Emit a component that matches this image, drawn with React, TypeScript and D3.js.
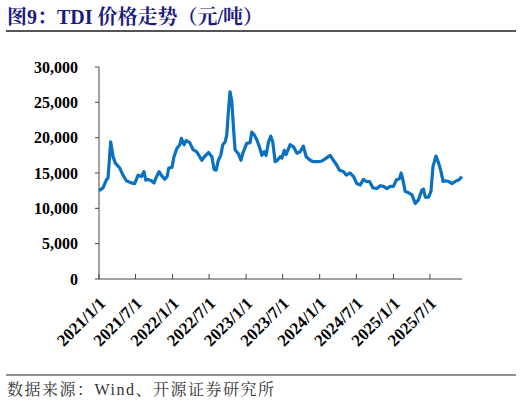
import { useEffect } from "react";
import * as d3 from "d3";

// TDI price (yuan/ton)
const dates = [
  "2021-01-01", "2021-01-21", "2021-02-06", "2021-02-15", "2021-02-28", "2021-03-12",
  "2021-03-23", "2021-04-14", "2021-04-30", "2021-05-17", "2021-06-10", "2021-06-27",
  "2021-07-14", "2021-07-30", "2021-08-12", "2021-08-21", "2021-09-01", "2021-09-18",
  "2021-10-01", "2021-10-12", "2021-10-26", "2021-11-06", "2021-11-23", "2021-12-05",
  "2021-12-13", "2021-12-29", "2022-01-08", "2022-01-23", "2022-02-06", "2022-02-14",
  "2022-02-27", "2022-03-10", "2022-03-27", "2022-04-13", "2022-05-01", "2022-05-26",
  "2022-06-11", "2022-06-28", "2022-07-15", "2022-07-26", "2022-08-05", "2022-08-16",
  "2022-08-28", "2022-09-07", "2022-09-19", "2022-09-27", "2022-10-05", "2022-10-13",
  "2022-10-22", "2022-10-30", "2022-11-07", "2022-11-24", "2022-12-06", "2022-12-18",
  "2023-01-04", "2023-01-21", "2023-01-29", "2023-02-10", "2023-02-23", "2023-03-08",
  "2023-03-20", "2023-03-31", "2023-04-10", "2023-04-22", "2023-05-03", "2023-05-13",
  "2023-05-25", "2023-06-05", "2023-06-19", "2023-06-27", "2023-07-09", "2023-07-18",
  "2023-08-07", "2023-08-24", "2023-09-10", "2023-09-26", "2023-10-12", "2023-10-26",
  "2023-11-15", "2023-12-01", "2023-12-26", "2024-01-12", "2024-01-28", "2024-02-22",
  "2024-03-09", "2024-03-26", "2024-04-08", "2024-04-28", "2024-05-11", "2024-05-31",
  "2024-06-17", "2024-07-03", "2024-07-20", "2024-08-05", "2024-08-19", "2024-09-04",
  "2024-09-21", "2024-10-11", "2024-10-27", "2024-11-13", "2024-11-29", "2024-12-16",
  "2025-01-01", "2025-01-15", "2025-01-31", "2025-02-08", "2025-02-17", "2025-02-28",
  "2025-03-17", "2025-04-03", "2025-04-19", "2025-05-05", "2025-05-22", "2025-05-30",
  "2025-06-08", "2025-06-24", "2025-07-06", "2025-07-16", "2025-07-31", "2025-08-13",
  "2025-08-25", "2025-09-04", "2025-09-15", "2025-10-01", "2025-10-18", "2025-11-09",
  "2025-11-20", "2025-12-07",
];

const prices = [
  12500, 12900, 14000, 14300, 19400, 17300,
  16400, 15700, 14700, 13900, 13600, 13500,
  14700, 14500, 15200, 14000, 14100, 13900,
  13600, 14400, 15200, 14700, 14100, 14500,
  15700, 15800, 17300, 18500, 19000, 19900,
  19000, 19600, 19300, 18300, 18000, 16800,
  17400, 17900, 17300, 15500, 15400, 16800,
  17500, 19000, 19400, 20400, 23700, 26500,
  25100, 21500, 18300, 17700, 16800, 18000,
  19200, 19300, 20800, 20400, 19700, 18700,
  17500, 18000, 17500, 19400, 20200, 19400,
  16600, 16800, 17300, 17100, 18200, 17600,
  19000, 18700, 17800, 18000, 18800, 17300,
  16800, 16600, 16600, 16700, 17000, 17500,
  16800, 16100, 15400, 15200, 14700, 15000,
  14500, 13500, 13300, 14100, 13800, 13800,
  12900, 12800, 13200, 13100, 12800, 13100,
  13100, 14000, 14200, 15000, 14000, 12400,
  12200, 11900, 10700, 11200, 12600, 12700,
  11600, 11600, 12400, 15900, 17400, 16400,
  15200, 13800, 13900, 13800, 13500, 13900,
  14000, 14500,
];

const yTicks = [0, 5000, 10000, 15000, 20000, 25000, 30000];
const xTickLabels = [
  "2021/1/1", "2021/7/1", "2022/1/1", "2022/7/1", "2023/1/1",
  "2023/7/1", "2024/1/1", "2024/7/1", "2025/1/1", "2025/7/1",
];
const xStart = "2021-01-01";
const xEnd = "2025-12-07";

const W = 522;
const H = 405;
const plot = { left: 99, right: 462, top: 67, bottom: 279 };
const serif = '"Times New Roman", "Liberation Serif", "Noto Serif CJK SC", "Noto Sans CJK SC", serif';

const parseISO = d3.timeParse("%Y-%m-%d");
const parseTick = d3.timeParse("%Y/%m/%d");
const fmt = d3.format(",");

export default function App() {
  useEffect(() => {
    document.body.style.margin = "0";
  }, []);

  const x = d3
    .scaleTime()
    .domain([parseISO(xStart)!, parseISO(xEnd)!])
    .range([plot.left, plot.right]);
  const y = d3.scaleLinear().domain([0, 30000]).range([plot.bottom, plot.top]);

  const points = dates.map((d, i) => [parseISO(d)!, prices[i]] as [Date, number]);
  const line = d3
    .line<[Date, number]>()
    .x((d) => x(d[0]))
    .y((d) => y(d[1]))
    .curve(d3.curveLinear);

  return (
    <svg width={W} height={H} style={{ display: "block", background: "#fff" }}>
      <text
        x={7}
        y={24}
        fontFamily={serif}
        fontWeight="bold"
        fontSize={20}
        fill="#1c1c80"
      >
        图9：TDI 价格走势（元/吨）
      </text>
      <line x1={6} x2={516} y1={31} y2={31} stroke="#555" strokeWidth={2} />

      {/* y axis */}
      <line x1={plot.left} x2={plot.left} y1={plot.top} y2={plot.bottom} stroke="#444" strokeWidth={1} />
      {yTicks.map((t) => (
        <g key={t}>
          <line x1={plot.left - 4} x2={plot.left} y1={y(t)} y2={y(t)} stroke="#444" />
          <text
            x={78}
            y={y(t)}
            dy="0.35em"
            textAnchor="end"
            fontFamily={serif}
            fontWeight="bold"
            fontSize={16}
            fill="#000"
          >
            {fmt(t)}
          </text>
        </g>
      ))}

      {/* x axis */}
      <line x1={plot.left} x2={plot.right} y1={plot.bottom} y2={plot.bottom} stroke="#444" strokeWidth={1} />
      {xTickLabels.map((lbl) => {
        const tx = x(parseTick(lbl)!);
        return (
          <g key={lbl}>
            <line x1={tx} x2={tx} y1={plot.bottom - 5} y2={plot.bottom} stroke="#444" />
            <text
              transform={`translate(${tx - 1},${plot.bottom + 17}) rotate(-45)`}
              textAnchor="end"
              dy="0.7em"
              fontFamily={serif}
              fontWeight="bold"
              fontSize={17}
              fill="#000"
            >
              {lbl}
            </text>
          </g>
        );
      })}

      <path d={line(points) ?? ""} fill="none" stroke="#0a70c0" strokeWidth={3.2} strokeLinejoin="round" />

      <line x1={6} x2={516} y1={375} y2={375} stroke="#222" strokeWidth={1} />
      <text x={7} y={395} fontFamily={serif} fontSize={16} letterSpacing={1.5} fill="#333">
        数据来源：Wind、开源证券研究所
      </text>
    </svg>
  );
}
